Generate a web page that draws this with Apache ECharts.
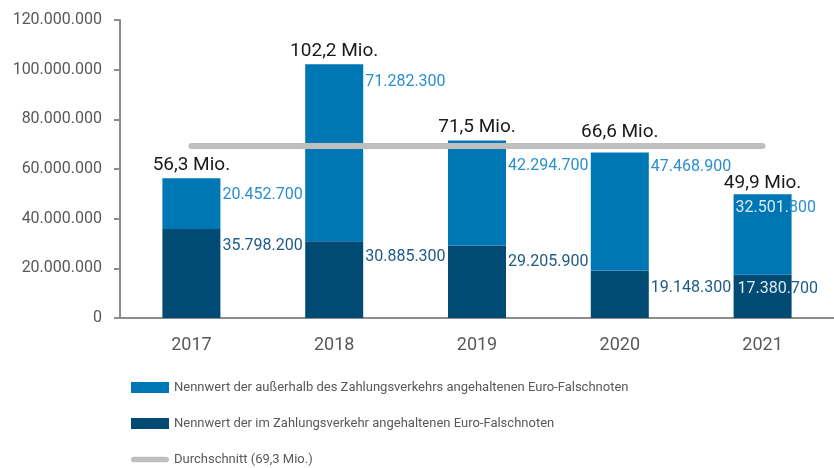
<!DOCTYPE html>
<html>
<head>
<meta charset="utf-8">
<script src="https://cdn.jsdelivr.net/npm/echarts@6/dist/echarts.min.js"></script>
<style>
  html, body { margin: 0; padding: 0; background: #fff; }
  #chart { width: 834px; height: 468px; }
</style>
</head>
<body>
<div id="chart"></div>
<script>
const years = ['2017', '2018', '2019', '2020', '2021']
// Nennwert der im Zahlungsverkehr angehaltenen Euro-Falschnoten
const inCirculation = [35798200, 30885300, 29205900, 19148300, 17380700]
// Nennwert der außerhalb des Zahlungsverkehrs angehaltenen Euro-Falschnoten
const outsideCirculation = [20452700, 71282300, 42294700, 47468900, 32501800]
const yTicks = [0, 20000000, 40000000, 60000000, 80000000, 100000000, 120000000]

const totals = years.map((_, i) => inCirculation[i] + outsideCirculation[i])
const average = totals.reduce((a, b) => a + b, 0) / totals.length
const fmtDots = v => String(Math.round(v)).replace(/\B(?=(\d{3})+(?!\d))/g, '.')
const fmtMio = v => (v / 1e6).toFixed(1).replace('.', ',') + ' Mio.'

const nameOut = 'Nennwert der außerhalb des Zahlungsverkehrs angehaltenen Euro-Falschnoten'
const nameIn = 'Nennwert der im Zahlungsverkehr angehaltenen Euro-Falschnoten'
const nameAvg = 'Durchschnitt (' + fmtMio(average) + ')'

const font = 'Roboto, "Noto Sans", sans-serif'
const topOffsets = [17, 18, 26, 14, 14]
const bottomOffsets = [17, 16, 17, 18, 14]
const totalDistances = [4, 4, 4, 11, 1]

// 2021 labels sit inside the bar: the part over the bar is drawn light
const splitLabel = (p, i) => {
  const s = fmtDots(p.value)
  return i === 4 ? '{w|' + s.slice(0, -3) + '}' + s.slice(-3) : s
}

const chart = echarts.init(document.getElementById('chart'))
chart.setOption({
  animation: false,
  grid: { left: 120, top: 20, width: 720, bottom: 150 },
  legend: {
    orient: 'vertical',
    left: 131,
    top: 381,
    height: 87,
    padding: 0,
    itemWidth: 38,
    itemHeight: 11,
    itemGap: 23,
    symbolKeepAspect: true,
    data: [
      { name: nameOut, icon: 'rect' },
      { name: nameIn, icon: 'rect' },
      { name: nameAvg, icon: 'path://M3,0 L37,0 A3,3 0 0 1 37,6 L3,6 A3,3 0 0 1 3,0 Z', itemStyle: { color: '#bfbfbf' } }
    ],
    textStyle: { color: '#595959', fontSize: 13, fontFamily: font }
  },
  xAxis: {
    type: 'category',
    data: years,
    axisLine: { lineStyle: { color: '#8c8c8c', width: 2 } },
    axisTick: { length: 6, lineStyle: { color: '#8c8c8c', width: 2 } },
    axisLabel: { color: '#595959', fontSize: 18, fontFamily: font, margin: 18 }
  },
  yAxis: {
    type: 'value',
    min: yTicks[0],
    max: yTicks[yTicks.length - 1],
    interval: yTicks[1] - yTicks[0],
    axisLine: { show: true, lineStyle: { color: '#8c8c8c', width: 2 } },
    axisTick: { show: true, length: 6, lineStyle: { color: '#8c8c8c', width: 2 } },
    splitLine: { show: false },
    axisLabel: { color: '#595959', fontSize: 16, fontFamily: font, margin: 18, formatter: fmtDots }
  },
  series: [
    {
      name: nameIn,
      type: 'bar',
      stack: 'total',
      barWidth: 58,
      itemStyle: { color: '#004a74' },
      data: inCirculation.map((v, i) => ({
        value: v,
        label: {
          show: true,
          position: [i === 4 ? 4 : 60, bottomOffsets[i]],
          align: 'left',
          verticalAlign: 'middle',
          color: '#1e5a86',
          fontSize: 16,
          fontFamily: font,
          formatter: p => splitLabel(p, i),
          rich: { w: { color: '#dce8f0', fontSize: 16, fontFamily: font } }
        }
      })),
      z: 2
    },
    {
      name: nameOut,
      type: 'bar',
      stack: 'total',
      barWidth: 58,
      itemStyle: { color: '#0077b5' },
      data: outsideCirculation.map((v, i) => ({
        value: v,
        label: {
          show: true,
          position: [i === 4 ? 2 : 60, topOffsets[i]],
          align: 'left',
          verticalAlign: 'middle',
          color: '#2a8fd0',
          fontSize: 16,
          fontFamily: font,
          formatter: p => splitLabel(p, i),
          rich: { w: { color: '#dce8f0', fontSize: 16, fontFamily: font } }
        }
      })),
      z: 2
    },
    {
      name: 'Summe',
      type: 'bar',
      barWidth: 58,
      barGap: '-100%',
      silent: true,
      itemStyle: { color: 'transparent' },
      data: totals.map((v, i) => ({
        value: v,
        label: {
          show: true,
          position: 'top',
          distance: totalDistances[i],
          color: '#1a1a1a',
          fontSize: 19,
          fontFamily: font,
          formatter: p => fmtMio(p.value)
        }
      })),
      z: 4
    },
    {
      name: nameAvg,
      type: 'line',
      data: years.map(() => average),
      symbol: 'none',
      lineStyle: { color: '#bfbfbf', width: 6, cap: 'round' },
      itemStyle: { color: '#bfbfbf' },
      z: 3
    }
  ]
})
</script>
</body>
</html>
